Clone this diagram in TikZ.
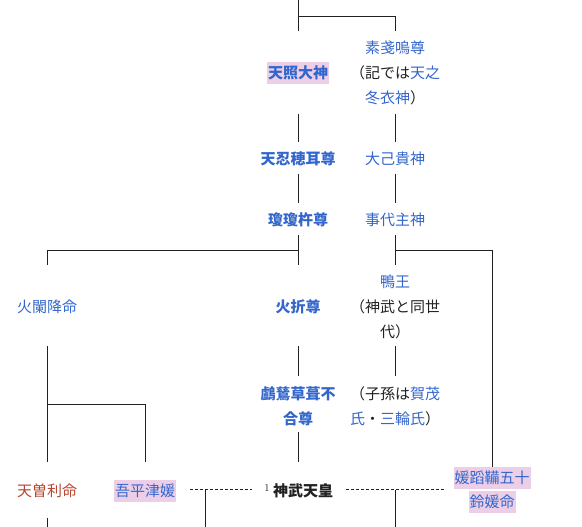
\documentclass[tikz,border=0pt]{standalone}
\usepackage{fontspec}
\newfontfamily\jp{Noto Sans CJK JP}
\definecolor{linkblue}{HTML}{3366CC}
\definecolor{redlink}{HTML}{B5452F}
\definecolor{hlpink}{HTML}{ECCFE6}
\definecolor{txt}{HTML}{202122}
\begin{document}
\begin{tikzpicture}[x=1pt,y=-1pt,
  base/.style={font=\jp\fontsize{15}{25}\selectfont, inner sep=0pt, align=center, text=txt},
  lk/.style={base, text=linkblue},
  lkb/.style={base, text=linkblue, font=\jp\bfseries\fontsize{15}{25}\selectfont},
  hl/.style={fill=hlpink, inner xsep=1pt, inner ysep=0pt, minimum height=22pt},
  rl/.style={base, text=redlink},
  ln/.style={draw=txt, line width=0.9pt},
  dl/.style={ln, dash pattern=on 3pt off 2pt}]
\useasboundingbox (0,0) rectangle (582,527);
% nodes
\node[lkb,hl] (amaterasu) at (298,73) {天照大神};
\node[base] (susanoo) at (395,73) {{\color{linkblue}素戔嗚尊}\\（記では{\color{linkblue}天之}\\{\color{linkblue}冬衣神}）};
\node[lkb] (oshiho) at (298,159) {天忍穂耳尊};
\node[lk] (onamuchi) at (395,159) {大己貴神};
\node[lkb] (ninigi) at (298,220) {瓊瓊杵尊};
\node[lk] (kotoshiro) at (395,220) {事代主神};
\node[lk] (hosuseri) at (47,307) {火闌降命};
\node[lkb] (hoori) at (298,307) {火折尊};
\node[base] (kamo) at (395,307) {{\color{linkblue}鴨王}\\（神武と同世\\代）};
\node[lkb] (ugaya) at (298,406) {鸕鶿草葺不\\合尊};
\node[base] (shison) at (395,406) {（子孫は{\color{linkblue}賀茂}\\{\color{linkblue}氏}・{\color{linkblue}三輪氏}）};
\node[rl] (tsori) at (47,491) {天曽利命};
\node[lk,hl] (ahira) at (145,491) {吾平津媛};
\node[base, font=\jp\bfseries\fontsize{15}{25}\selectfont] (jimmu) at (303,491) {神武天皇};
\node[anchor=base east, inner sep=0pt, font=\fontsize{10.5}{10.5}\selectfont, text=txt] (sup) at ([xshift=-3pt,yshift=5pt]jimmu.base west) {1};
\node[lk,hl] (hime1) at (492,478) {媛蹈鞴五十};
\node[lk,hl] (hime2) at (492,502) {鈴媛命};
% coordinates
\coordinate (t0) at (298,0);
\coordinate (t1) at (298,16);
\coordinate (t2) at (395,16);
% connectors
\draw[ln] (t0) -- (298,31);
\draw[ln] (t1) -- (t2) -- (395,31);
\draw[ln] (298,114) -- (298,142);
\draw[ln] (395,114) -- (395,142);
\draw[ln] (298,174) -- (298,203);
\draw[ln] (395,174) -- (395,203);
\draw[ln] (298,235) -- (298,265);
\draw[ln] (47,265) -- (47,250) -- (298,250);
\draw[ln] (395,235) -- (395,265);
\draw[ln] (395,250) -- (492,250) -- (hime1.north);
\draw[ln] (47,346) -- (47,462);
\draw[ln] (47,404) -- (145,404) -- (145,462);
\draw[ln] (298,346) -- (298,376);
\draw[ln] (395,346) -- (395,376);
\draw[ln] (298,432) -- (298,462);
\draw[dl] (190,489.5) -- (252,489.5);
\draw[ln] (205,489.5) -- (205,527);
\draw[dl] (346,489.5) -- (445,489.5);
\draw[ln] (395.5,489.5) -- (395.5,527);
\draw[ln] (47,518) -- (47,527);
\end{tikzpicture}
\end{document}
